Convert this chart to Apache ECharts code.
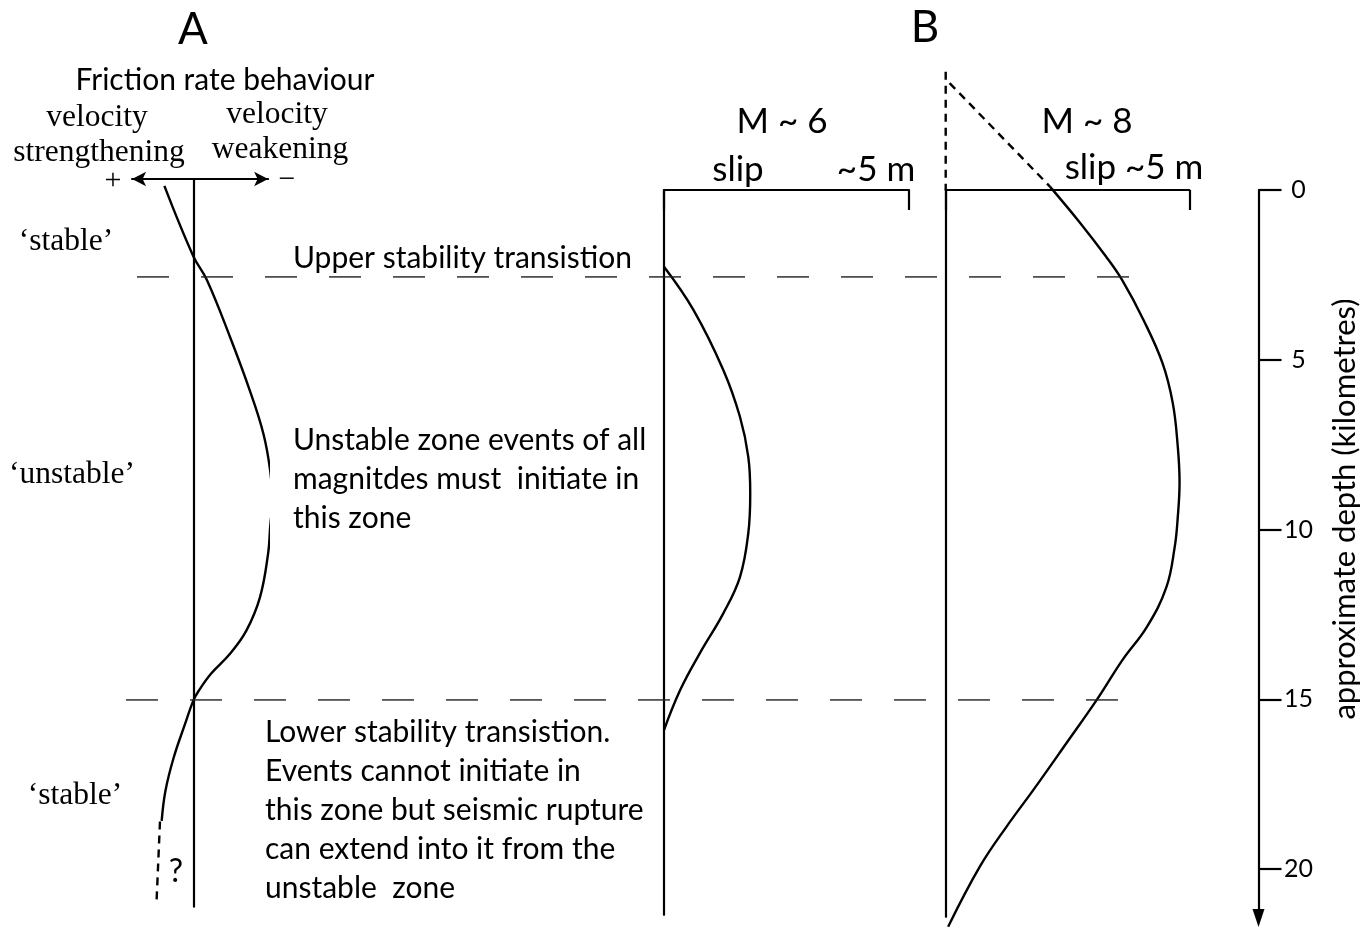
<!DOCTYPE html>
<html>
<head>
<meta charset="utf-8">
<script src="https://cdn.jsdelivr.net/npm/echarts@6/dist/echarts.min.js"></script>
<style>
  html, body { margin: 0; padding: 0; background: #fff; }
  #chart { width: 1372px; height: 930px; }
</style>
</head>
<body>
<div id="chart"></div>
<script>
// depth profiles (km, positive downwards)
var frictionDepth = [-0.12, 1.95, 2.65, 4.33, 5.9, 7.17, 8.26, 9.14, 9.94, 10.71, 12.0, 12.98, 13.66, 14.25, 14.75, 15.04, 15.72, 16.73, 17.7, 18.58];
var frictionRate  = [0.425, 0, -0.2, -0.54, -0.83, -1.03, -1.13, -1.16, -1.13, -1.10, -0.98, -0.78, -0.54, -0.26, -0.08, 0, 0.12, 0.29, 0.41, 0.465];
// uncertain part below (the "?")
var frictionQDepth = [18.6, 20.94];
var frictionQRate  = [0.49, 0.54];

var slipDepthM6 = [2.26, 3.53, 5.30, 6.68, 7.86, 8.93, 10.11, 11.40, 12.47, 13.65, 14.73, 15.91];
var slipM6      = [0, 0.6, 1.21, 1.55, 1.72, 1.76, 1.72, 1.55, 1.21, 0.73, 0.33, 0];

var slipDepthM8 = [-0.10, 0.97, 1.96, 2.65, 3.83, 5.10, 6.27, 7.5, 8.6, 9.7, 10.52, 11.70, 12.87, 13.84, 15.02, 16.29, 17.67, 18.75, 19.93, 21.70];
var slipM8      = [2.14, 2.76, 3.29, 3.62, 4.06, 4.45, 4.66, 4.76, 4.80, 4.76, 4.70, 4.53, 4.13, 3.63, 3.10, 2.48, 1.80, 1.25, 0.70, 0.05];
// dashed extension above the surface
var slipDepthM8Up = [-3.15, -0.10];
var slipM8Up      = [0.08, 2.14];

var transitionDepths = [2.56, 15.02];   // upper / lower stability transition
var depthTicks = [0, 5, 10, 15, 20];

// layout
var Y0 = 190;       // pixel of depth 0
var K = 33.95;      // px per km
function gridY(dmin, dmax) { return { top: Y0 + dmin * K, height: (dmax - dmin) * K }; }
function pairs(xs, ys) { return xs.map(function (x, i) { return [x, ys[i]]; }); }

var SANS = 'Lato';
var SERIF = 'Liberation Serif';

var myChart = echarts.init(document.getElementById('chart'), null, { renderer: 'canvas' });

var gA = gridY(-0.324, 21.11);
var g6 = gridY(0, 21.35);
var g8 = gridY(0, 21.41);
var gD = gridY(0, 21.44);

function hiddenAxis(extra) {
  var a = { type: 'value', show: false, splitLine: { show: false } };
  for (var k in extra) a[k] = extra[k];
  return a;
}
var blackLine = { color: '#000', width: 2.2 };
var curve = { color: '#000', width: 2.4 };

var option = {
  animation: false,
  backgroundColor: '#fff',
  grid: [
    { left: 132.1, width: 136, top: gA.top, height: gA.height },
    { left: 664, width: 245, top: g6.top, height: g6.height },
    { left: 945.7, width: 243.6, top: g8.top, height: g8.height },
    { left: 1238.5, width: 20, top: gD.top, height: gD.height },
    { left: 126, width: 1003, top: gD.top, height: gD.height }
  ],
  xAxis: [
    { type: 'value', gridIndex: 0, min: -1.1, max: 0.9, inverse: true, position: 'top',
      axisLine: { show: true, onZero: false, symbol: ['arrow', 'arrow'], symbolSize: [11, 14], lineStyle: blackLine },
      axisTick: { show: false }, axisLabel: { show: false }, splitLine: { show: false } },
    { type: 'value', gridIndex: 1, min: 0, max: 5, interval: 5, position: 'top',
      axisLine: { show: true, onZero: false, lineStyle: blackLine },
      axisTick: { show: true, inside: true, length: 20, lineStyle: blackLine },
      axisLabel: { show: false }, splitLine: { show: false } },
    { type: 'value', gridIndex: 2, min: 0, max: 5, interval: 5, position: 'top',
      axisLine: { show: true, onZero: false, lineStyle: blackLine },
      axisTick: { show: true, inside: true, length: 20, lineStyle: blackLine },
      axisLabel: { show: false }, splitLine: { show: false } },
    hiddenAxis({ gridIndex: 3, min: 0, max: 1 }),
    hiddenAxis({ gridIndex: 4, min: 0, max: 1 })
  ],
  yAxis: [
    { type: 'value', gridIndex: 0, min: -0.324, max: 21.11, inverse: true,
      axisLine: { show: true, onZero: true, lineStyle: blackLine },
      axisTick: { show: false }, axisLabel: { show: false }, splitLine: { show: false } },
    { type: 'value', gridIndex: 1, min: 0, max: 21.35, inverse: true,
      axisLine: { show: true, onZero: false, lineStyle: blackLine },
      axisTick: { show: false }, axisLabel: { show: false }, splitLine: { show: false } },
    { type: 'value', gridIndex: 2, min: 0, max: 21.41, inverse: true,
      axisLine: { show: true, onZero: false, lineStyle: blackLine },
      axisTick: { show: false }, axisLabel: { show: false }, splitLine: { show: false } },
    { type: 'value', gridIndex: 3, min: 0, max: 21.44, inverse: true, position: 'right',
      axisLine: { show: true, onZero: false, symbol: ['triangle', 'none'], symbolSize: [12, 18], lineStyle: blackLine },
      axisTick: { show: true, length: 23, customValues: depthTicks, lineStyle: blackLine },
      axisLabel: { show: true, customValues: depthTicks, margin: 40, align: 'center',
        fontFamily: SANS, fontSize: 25, color: '#000' },
      splitLine: { show: false } },
    hiddenAxis({ gridIndex: 4, min: 0, max: 21.44, inverse: true })
  ],
  series: [
    { type: 'line', xAxisIndex: 0, yAxisIndex: 0, data: pairs(frictionRate, frictionDepth),
      smooth: 0.4, smoothConstraint: false, symbol: 'none', clip: false, lineStyle: curve },
    { type: 'line', xAxisIndex: 0, yAxisIndex: 0, data: pairs(frictionQRate, frictionQDepth),
      symbol: 'none', clip: false, lineStyle: { color: '#000', width: 2.4, type: [8, 6] } },
    { type: 'line', xAxisIndex: 1, yAxisIndex: 1, data: pairs(slipM6, slipDepthM6),
      smooth: 0.4, smoothConstraint: false, symbol: 'none', clip: false, lineStyle: curve },
    { type: 'line', xAxisIndex: 2, yAxisIndex: 2, data: pairs(slipM8, slipDepthM8),
      smooth: 0.4, smoothConstraint: false, symbol: 'none', clip: false, lineStyle: curve },
    { type: 'line', xAxisIndex: 2, yAxisIndex: 2, data: pairs(slipM8Up, slipDepthM8Up),
      symbol: 'none', clip: false, lineStyle: { color: '#000', width: 2.4, type: [8, 6] } },
    { type: 'line', xAxisIndex: 2, yAxisIndex: 2, data: [[0, -3.48], [0, 0]],
      symbol: 'none', clip: false, lineStyle: { color: '#000', width: 2.4, type: [8, 6] } },
    { type: 'line', xAxisIndex: 4, yAxisIndex: 4, data: [[0.011, transitionDepths[0]], [1, transitionDepths[0]]],
      symbol: 'none', clip: false, lineStyle: { color: '#222', width: 1.4, type: [32, 32] } },
    { type: 'line', xAxisIndex: 4, yAxisIndex: 4, data: [[0, transitionDepths[1]], [0.989, transitionDepths[1]]],
      symbol: 'none', clip: false, lineStyle: { color: '#222', width: 1.4, type: [32, 32] } }
  ],
  graphic: []
};

function txt(s, x, y, size, family, align, extra) {
  var el = { type: 'text', x: x, y: y, silent: true,
    style: { text: s, fontSize: size, fontFamily: family, fill: '#000',
      align: align || 'center', verticalAlign: 'middle', lineHeight: 39 } };
  if (extra) for (var k in extra) el[k] = extra[k];
  return el;
}

option.graphic = [
  txt('A', 193, 30, 44, SANS),
  txt('B', 925, 28, 44, SANS),
  txt('Friction rate behaviour', 225, 80, 30, SANS),
  txt('velocity', 97, 118, 31.5, SERIF),
  txt('strengthening', 99, 153, 31.5, SERIF),
  txt('velocity', 277, 115, 31.5, SERIF),
  txt('weakening', 280, 150, 31.5, SERIF),
  txt('+', 113, 181, 30, SERIF),
  txt('\u2212', 287, 180, 30, SERIF),
  txt('\u2018stable\u2019', 66, 242, 31.5, SERIF),
  txt('\u2018unstable\u2019', 72, 475, 31.5, SERIF),
  txt('\u2018stable\u2019', 75, 796, 31.5, SERIF),
  txt('Upper stability transistion', 293, 258, 30, SANS, 'left'),
  txt('Unstable zone events of all\nmagnitdes must  initiate in\nthis zone', 293, 479, 30, SANS, 'left'),
  txt('Lower stability transistion.\nEvents cannot initiate in\nthis zone but seismic rupture\ncan extend into it from the\nunstable  zone', 265, 810, 30, SANS, 'left'),
  txt('M ~ 6', 782, 122, 35, SANS),
  txt('M ~ 8', 1087, 122, 35, SANS),
  txt('slip', 738, 170, 35, SANS),
  txt('~5 m', 876, 170, 35, SANS),
  txt('slip ~5 m', 1134, 168, 35, SANS),
  txt('?', 176, 872, 32, SANS),
  txt('approximate depth (kilometres)', 1345, 509, 31, SANS, 'center', { rotation: Math.PI / 2 })
];

myChart.setOption(option);
window.onresize = myChart.resize;
</script>
</body>
</html>
